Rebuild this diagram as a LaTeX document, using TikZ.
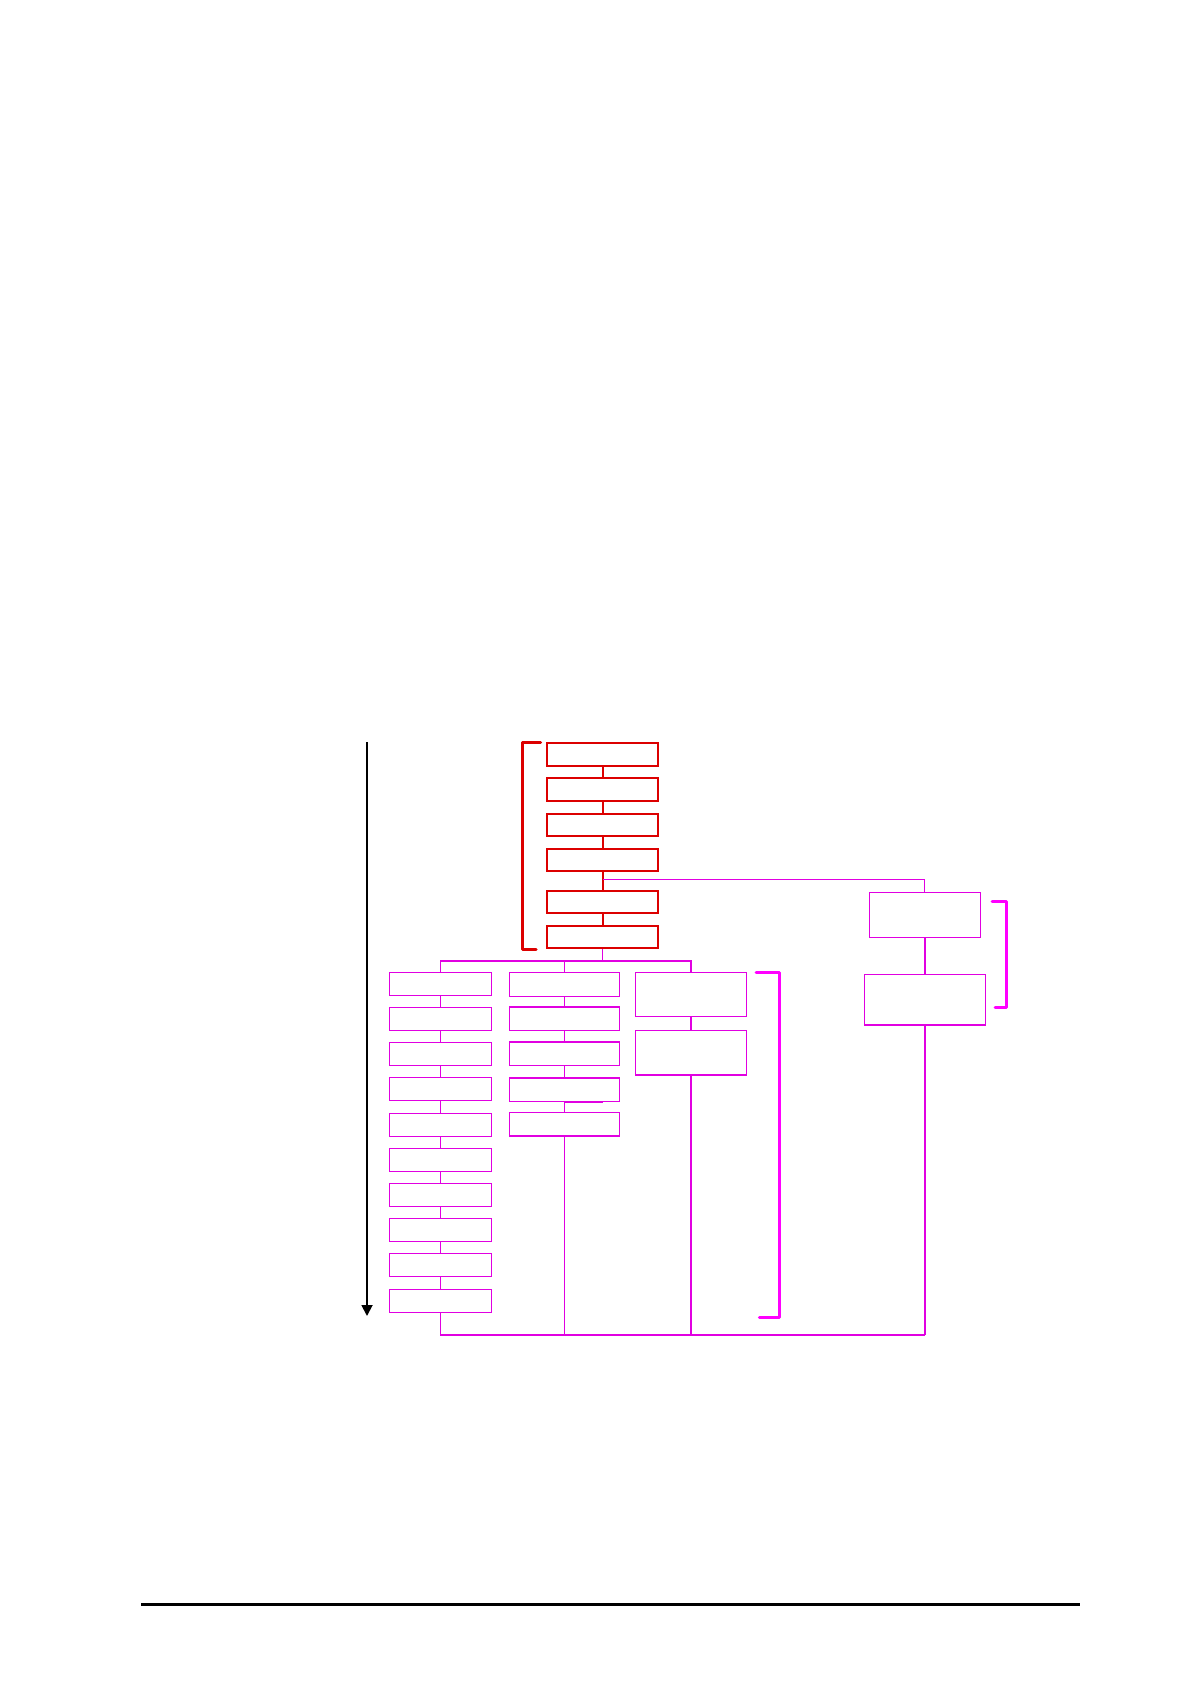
\documentclass[tikz,border=0pt]{standalone}
\usetikzlibrary{arrows.meta}
\definecolor{myred}{RGB}{220,0,0}
\definecolor{mymag}{RGB}{225,0,225}
\definecolor{brmag}{RGB}{255,0,255}
\tikzset{
  redbox/.style={draw=myred, line width=1pt, minimum width=55.5pt, minimum height=11.25pt, inner sep=0pt},
  pbox/.style={draw=mymag, line width=0.55pt, inner sep=0pt},
  cAbox/.style={pbox, minimum width=51pt, minimum height=11.6pt},
  cBbox/.style={pbox, minimum width=55pt, minimum height=11.8pt},
  cCbox/.style={pbox, minimum width=55.5pt, minimum height=22.2pt},
  rAbox/.style={pbox, minimum width=55.5pt, minimum height=22.5pt},
  rBbox/.style={pbox, minimum width=60.5pt, minimum height=25.3pt},
  redline/.style={draw=myred, line width=1pt},
  pline/.style={draw=mymag, line width=0.55pt},
  redbracket/.style={draw=myred, line width=1.5pt, line cap=round, line join=round},
  magbracket/.style={draw=brmag, line width=1.5pt, line cap=round, line join=round},
}
\begin{document}
\begin{tikzpicture}[x=0.5pt, y=-0.5pt]
\useasboundingbox (0,0) rectangle (1190,1684);
% red chain
\node[redbox] (r1) at (602.5,754.3) {};
\node[redbox] (r2) at (602.5,789.3) {};
\node[redbox] (r3) at (602.5,825) {};
\node[redbox] (r4) at (602.5,860) {};
\node[redbox] (r5) at (602.5,902) {};
\node[redbox] (r6) at (602.5,937) {};
\draw[redline] (r1.south) -- (r2.north);
\draw[redline] (r2.south) -- (r3.north);
\draw[redline] (r3.south) -- (r4.north);
\draw[redline] (r4.south) -- (r5.north);
\draw[redline] (r5.south) -- (r6.north);
% right branch
\node[rAbox] (ra) at (924.8,914.8) {};
\node[rBbox] (rb) at (924.8,999.7) {};
\coordinate (brk) at (602.5,879.3);
\draw[pline] (brk) -| (ra.north);
\draw[pline, line width=0.8pt] (ra.south) -- (rb.north);
% column 1
\foreach \i/\y in {1/983.7,2/1018.8,3/1054.3,4/1089.3,5/1124.7,6/1159.7,7/1194.8,8/1230.3,9/1264.7,10/1301.2}
  \node[cAbox] (a\i) at (440.3,\y) {};
\foreach \i [evaluate=\i as \j using int(\i+1)] in {1,...,9}
  \draw[pline] (a\i.south) -- (a\j.north);
% column 2
\foreach \i/\y in {1/984.3,2/1018.8,3/1053.8,4/1089.8,5/1124.2}
  \node[cBbox] (b\i) at (564.8,\y) {};
\foreach \i [evaluate=\i as \j using int(\i+1)] in {1,...,4}
  \draw[pline] (b\i.south) -- (b\j.north);
\coordinate (stubend) at ([xshift=18.95pt]b4.south);
\draw[pline, line width=0.9pt] (b4.south) -- (stubend);
% column 3
\node[cCbox] (c1) at (691,994.3) {};
\node[cCbox] (c2) at (691,1052.8) {};
\draw[pline] (c1.south) -- (c2.north);
% top distribution
\coordinate (dist) at (602.5,961);
\draw[pline] (r6.south) -- (dist);
\draw[pline] (dist) -| (a1.north);
\draw[pline] (dist) -| (c1.north);
\draw[pline] (b1.north) |- (dist);
% bottom collection
\coordinate (bl) at (440.3,1335);
\coordinate (br) at (924.8,1335);
\draw[pline] (a10.south) -- (bl) -- (br);
\draw[pline] (b5.south) -- (b5.south |- bl);
\draw[pline] (c2.south) -- (c2.south |- bl);
\draw[pline, line width=0.8pt] (rb.south) -- (br);
% brackets
\draw[redbracket] (540.7,742.5) -- (522,742.5) -- (522,949) -- (536,949);
\draw[magbracket] (756,972.3) -- (779,972.3) -- (779,1317.3) -- (759.3,1317.3);
\draw[magbracket] (992,901.7) -- (1006,901.7) -- (1006,1007.7) -- (995,1007.7);
% time arrow
\coordinate (ta) at (367,742);
\coordinate (tb) at (367,1316);
\draw[line width=0.9pt, -{Triangle[length=5.5pt, width=5.5pt]}] (ta) -- (tb);
% bottom rule
\draw[line width=1.5pt] (141,1604.3) -- (1080,1604.3);
\end{tikzpicture}
\end{document}
